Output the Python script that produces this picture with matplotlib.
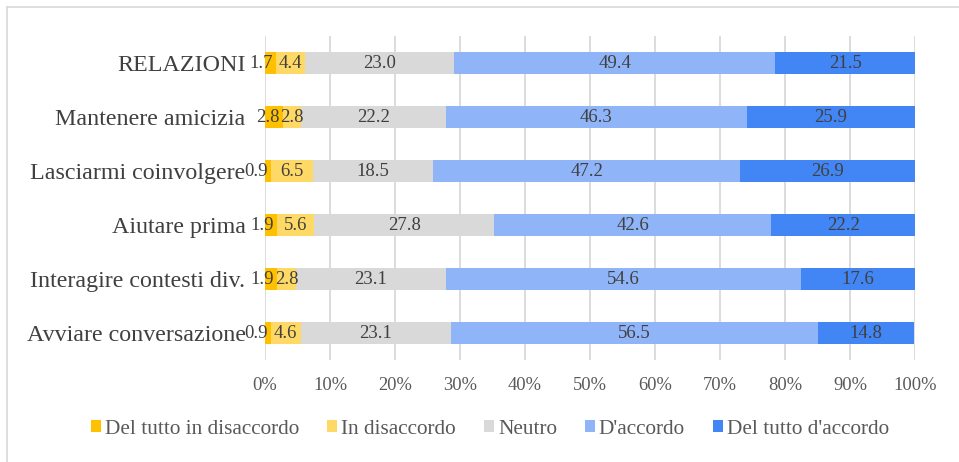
import matplotlib.pyplot as plt
import numpy as np
from matplotlib.lines import Line2D
from matplotlib.patches import Patch

plt.rcParams['font.family'] = ['Liberation Serif', 'DejaVu Serif']

categories = ['RELAZIONI', 'Mantenere amicizia', 'Lasciarmi coinvolgere',
              'Aiutare prima', 'Interagire contesti div.', 'Avviare conversazione']
series = ['Del tutto in disaccordo', 'In disaccordo', 'Neutro',
          "D'accordo", "Del tutto d'accordo"]
tutto_disaccordo = [1.7, 2.8, 0.9, 1.9, 1.9, 0.9]
disaccordo = [4.4, 2.8, 6.5, 5.6, 2.8, 4.6]
neutro = [23.0, 22.2, 18.5, 27.8, 23.1, 23.1]
accordo = [49.4, 46.3, 47.2, 42.6, 54.6, 56.5]
tutto_accordo = [21.5, 25.9, 26.9, 22.2, 17.6, 14.8]
colors = ['#FFC000', '#FFD966', '#D9D9D9', '#8FB4F7', '#4285F4']

values = [tutto_disaccordo, disaccordo, neutro, accordo, tutto_accordo]

fig = plt.figure(figsize=(9.59, 4.62), dpi=100)
ax = fig.add_axes([265 / 959, 1 - 360 / 462, 650 / 959, 324 / 462])

y = np.arange(len(categories))[::-1]
left = np.zeros(len(categories))
labels = []
for name, vals, col in zip(series, values, colors):
    vals = np.array(vals)
    bars = ax.barh(y, vals, left=left, height=0.41, color=col, label=name, zorder=3)
    row = []
    for b, v in zip(bars, vals):
        t = ax.text(b.get_x() + b.get_width() / 2, b.get_y() + b.get_height() / 2,
                    f'{v:.1f}', ha='center', va='center', fontsize=13.5,
                    color='#404040', zorder=4)
        row.append(t)
    labels.append(row)
    left += vals

ax.set_xlim(0, 100)
ax.set_ylim(-0.5, len(categories) - 0.5)
ax.set_xticks(np.arange(0, 101, 10))
ax.set_xticklabels([f'{t}%' for t in range(0, 101, 10)])
ax.set_yticks(y)
ax.set_yticklabels(categories)
ax.tick_params(axis='x', length=0, labelsize=13.3, labelcolor='#595959', pad=12)
ax.tick_params(axis='y', length=0, labelsize=17.3, labelcolor='#404040', pad=14)
ax.grid(axis='x', color='#D9D9D9', linewidth=1.3, zorder=0)
for s in ax.spines.values():
    s.set_visible(False)

# tiny first segment: right-align its label near the segment end, clear of the next label
renderer = fig.canvas.get_renderer()
for t1, t2, v in zip(labels[0], labels[1], tutto_disaccordo):
    b2 = t2.get_window_extent(renderer)
    seg_end = ax.transData.transform((v, 0))[0]
    x_disp = min(seg_end - 3, b2.x0 - 1)
    x_data = ax.transData.inverted().transform((x_disp, 0))[0]
    t1.set_x(x_data)
    t1.set_ha('right')

handles = [Patch(facecolor=c, edgecolor='none') for c in colors]
fig.legend(handles, series, loc='center', bbox_to_anchor=(490 / 959, 1 - 429 / 462),
           ncol=5, frameon=False, fontsize=15.3, handlelength=0.47, handleheight=0.47,
           handletextpad=0.2, columnspacing=1.3, labelcolor='#595959')

# chart frame
fig.add_artist(Line2D([7 / 959, 1], [1 - 7 / 462, 1 - 7 / 462], color='#D9D9D9', lw=1.2))
fig.add_artist(Line2D([7 / 959, 7 / 959], [0, 1 - 7 / 462], color='#D9D9D9', lw=1.2))

fig.savefig('out.png', dpi=100)
